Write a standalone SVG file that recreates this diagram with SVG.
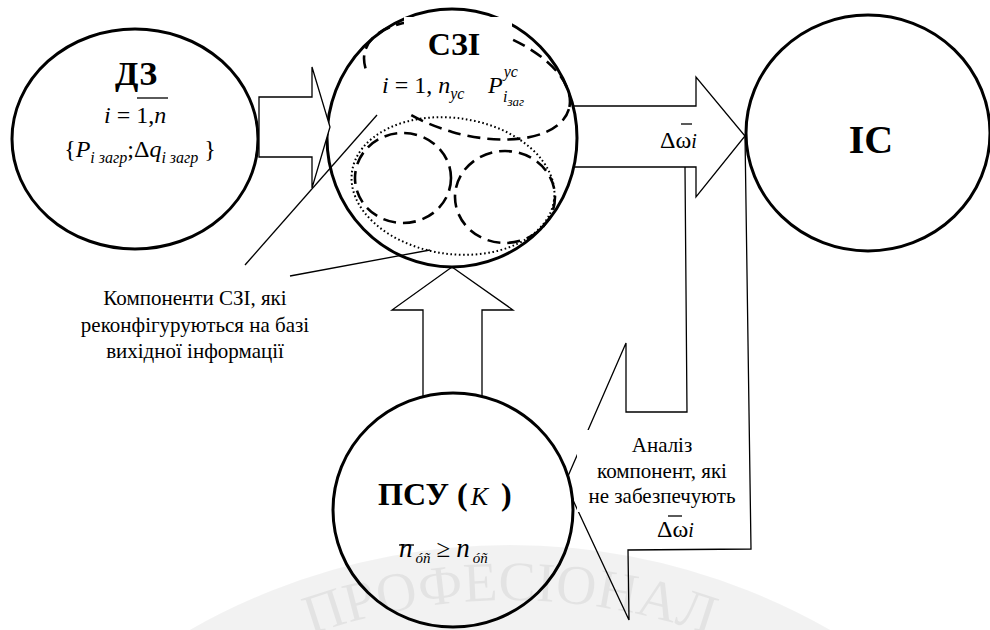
<svg xmlns="http://www.w3.org/2000/svg" width="990" height="630" viewBox="0 0 990 630">
<style>
.t{font-family:"Liberation Serif","Times New Roman",serif;fill:#000}
.node{fill:#fff;stroke:#000;stroke-width:3}
.arrow{fill:#fff;stroke:#000;stroke-width:1.3;stroke-linejoin:miter}
.thin{fill:none;stroke:#000;stroke-width:1.3}
.dash{fill:none;stroke:#000;stroke-width:2.6;stroke-dasharray:13 7}
.dot{fill:none;stroke:#000;stroke-width:2;stroke-dasharray:1.6 2.6}
.bar{stroke:#000;stroke-width:1.3}
.it{font-style:italic}
.b{font-weight:bold}
.lbl{font-size:21px}
.mask{fill:#fff;stroke:none}
</style>
<defs>
<path id="wmArc" d="M -80 1190 A 590 590 0 0 1 1100 1190"/>
</defs>
<rect width="990" height="630" fill="#fff"/>

<g id="callout-analysis">
<polygon class="arrow" points="745,135 751,549 628,550 629,620 565,483 626,343 626,412 687,412 685,167"/>
</g>

<g id="connectors">
<polygon id="arrow-szi-ic" class="arrow" points="540,106 696,106 696,77 745,136 696,197 696,167 540,167"/>
<polygon id="arrow-psu-szi" class="arrow" points="423,430 423,310 392,310 452,267 513,310 482,310 482,430"/>
</g>

<g id="node-szi">
<ellipse class="node" cx="452" cy="138" rx="125" ry="129"/>
<ellipse class="dash" cx="467" cy="80" rx="106" ry="54" transform="rotate(16 467 80)"/>
<ellipse class="dot" cx="453" cy="186" rx="102" ry="68" transform="rotate(8 453 186)"/>
<ellipse class="dash" cx="403" cy="178" rx="48" ry="45"/>
<ellipse class="dash" cx="505" cy="197" rx="50" ry="46"/>
<rect class="mask" x="404" y="17" width="108" height="50"/>
<rect class="mask" x="367" y="64" width="170" height="48"/>
<rect class="mask" x="367" y="100" width="108" height="14"/>
<text class="t b" font-family="Liberation Serif" x="454" y="55" text-anchor="middle" font-size="32">СЗІ</text>
<text class="t" font-family="Liberation Serif" x="382" y="93" font-size="24"><tspan class="it">i</tspan> = 1, <tspan class="it">n</tspan><tspan class="it" font-size="16" dy="6">yc</tspan></text>
<text class="t it" font-family="Liberation Serif" x="488" y="93" font-size="24">P<tspan font-size="16" dx="1" dy="-16">yc</tspan></text>
<text class="t it" font-family="Liberation Serif" x="503" y="102" font-size="16">i<tspan font-size="13" dy="4">заг</tspan></text>
</g>

<g id="node-dz">
<ellipse class="node" cx="135" cy="139" rx="123" ry="110"/>
<text class="t b" font-family="Liberation Serif" x="136" y="85" text-anchor="middle" font-size="34">ДЗ</text>
<text class="t" font-family="Liberation Serif" x="104" y="123" font-size="24"><tspan class="it">i</tspan> = 1,<tspan class="it">n</tspan></text>
<line class="bar" x1="137" y1="98" x2="168" y2="98"/>
<text class="t" font-family="Liberation Serif" x="140" y="157" text-anchor="middle" font-size="24">{<tspan class="it">P</tspan><tspan class="it" font-size="16" dy="6">i загр</tspan><tspan dy="-6">;Δ</tspan><tspan class="it">q</tspan><tspan class="it" font-size="16" dy="6">i загр</tspan><tspan dy="-6"> }</tspan></text>
</g>

<g id="connectors-front">
<polygon id="arrow-dz-szi" class="arrow" points="259,97 312,97 312,67 330,127 312,188 312,157 259,157"/>
</g>

<g id="node-ic">
<ellipse class="node" cx="868" cy="133" rx="122" ry="118"/>
<text class="t b" font-family="Liberation Serif" x="871" y="153" text-anchor="middle" font-size="40">ІС</text>
</g>

<g id="label-domega">
<text class="t" font-family="Liberation Serif" x="660" y="148" font-size="24">Δω<tspan class="it" font-size="20">i</tspan></text>
<line class="bar" x1="681" y1="124" x2="692" y2="124"/>
</g>

<g id="node-psu">
<ellipse class="node" cx="453" cy="510" rx="120" ry="117"/>
<text class="t b" font-family="Liberation Serif" x="378" y="505" font-size="32">ПСУ (<tspan class="it" font-weight="normal" font-size="26" dx="3">K</tspan><tspan dx="13">)</tspan></text>
<text class="t it" font-family="Liberation Serif" x="399" y="557" font-size="27">n<tspan font-size="15" dx="3" dy="6">óñ</tspan><tspan font-style="normal" font-size="25" dx="6" dy="-6">≥</tspan><tspan dx="6">n</tspan><tspan font-size="15" dx="3" dy="6">óñ</tspan></text>
<line class="bar" x1="399" y1="545" x2="414" y2="545"/>
</g>

<g id="callout-components">
<line class="thin" x1="245" y1="265" x2="377" y2="115"/>
<line class="thin" x1="290" y1="276" x2="430" y2="250"/>
<text class="t lbl" font-family="Liberation Serif" text-anchor="middle"><tspan x="195" y="305">Компоненти СЗІ, які</tspan><tspan x="195" y="332">реконфігуруються на базі</tspan><tspan x="195" y="358">вихідної інформації</tspan></text>
</g>

<g id="callout-analysis-text">
<rect class="mask" x="577" y="430" width="168" height="82"/>
<text class="t lbl" font-family="Liberation Serif" text-anchor="middle"><tspan x="662" y="452">Аналіз</tspan><tspan x="662" y="478">компонент, які</tspan><tspan x="662" y="503">не забезпечують</tspan></text>
<text class="t" font-family="Liberation Serif" x="657" y="537" font-size="24">Δω<tspan class="it" font-size="20">i</tspan></text>
<line class="bar" x1="668" y1="516" x2="682" y2="516"/>
</g>

<g id="watermark">
<circle cx="510" cy="1190" r="600" fill="none" stroke="#000" stroke-opacity="0.05" stroke-width="90"/>
<text class="t" font-family="Liberation Serif" font-size="56" fill="#000" fill-opacity="0.06"><textPath href="#wmArc" startOffset="50%" text-anchor="middle">ПРОФЕСІОНАЛ</textPath></text>
</g>
</svg>
